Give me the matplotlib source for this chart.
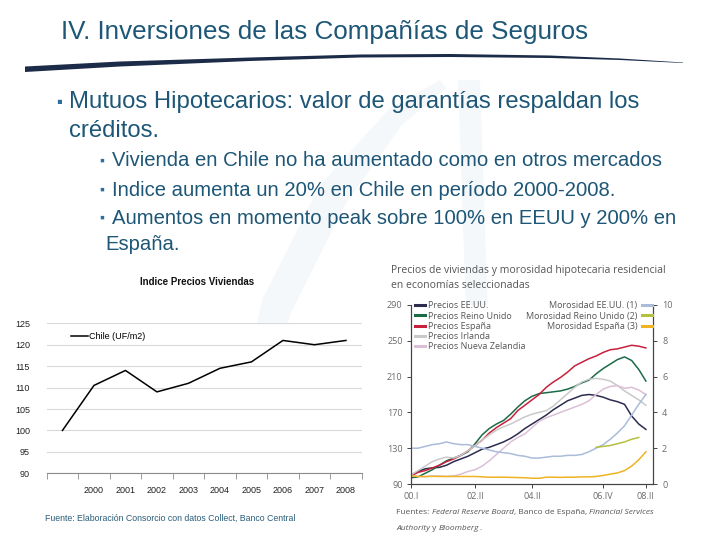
import numpy as np
import matplotlib
matplotlib.use("Agg")
import matplotlib.pyplot as plt
from matplotlib.patches import Polygon

W, H = 720, 540

# ---- data: left chart (Indice Precios Viviendas) ----
chile_years = ["", "2000", "2001", "2002", "2003", "2004", "2005", "2006", "2007", "2008"]
chile_index = [100, 110.5, 114, 109, 111, 114.5, 116, 121, 120, 121]

# ---- data: right chart, quarterly 2000.I .. 2008.II ----
quarters = list(range(34))
q_ticks = [0, 9, 17, 27, 33]
q_labels = ["00.I", "02.II", "04.II", "06.IV", "08.II"]

precios_eeuu = [100, 104, 107, 108, 108.6, 111, 115, 118, 121, 125, 129, 131, 134, 137,
                141, 146, 152, 157, 162, 167, 173, 178, 183, 186, 189, 190, 189, 187,
                184, 182, 179, 166, 157, 151]
precios_uk = [97, 98, 102, 106, 111, 116, 119, 122, 126, 135, 145, 152, 157, 161,
              168, 176, 183, 188, 191, 192, 193, 194, 196, 199, 203, 206, 213, 219,
              224, 229, 232, 228, 218, 205]
precios_espana = [99, 103, 105, 108, 111, 115, 118, 122, 127, 133, 139, 147, 153, 158,
                  163, 172, 178, 184, 190, 198, 204, 209, 215, 222, 226, 230, 233, 237,
                  240, 241, 243, 245, 244, 242]
precios_irlanda = [100, 105, 110, 115, 118, 120, 119, 122, 127, 133, 139, 145, 150, 154,
                   157, 161, 165, 168, 170, 172, 177, 184, 191, 198, 204, 207, 208, 207,
                   205, 200, 194, 189, 184, 178]
precios_nz = [99, 98.5, 98, 99, 99, 98.5, 99, 101, 104, 106, 110, 116, 123, 130,
              137, 142, 146, 153, 160, 164, 167, 170, 173, 176, 179, 183, 190, 196,
              199, 200, 197, 198, 195, 190]

moros_eeuu = [2.0, 2.0, 2.1, 2.2, 2.25, 2.35, 2.25, 2.2, 2.2, 2.1, 2.0, 1.9, 1.8, 1.75,
              1.7, 1.6, 1.55, 1.45, 1.45, 1.5, 1.55, 1.55, 1.6, 1.6, 1.65, 1.8, 2.0, 2.2,
              2.5, 2.85, 3.25, 3.85, 4.45, 5.0]
uk_quarters = [26, 27, 28, 29, 30, 31, 32]
moros_uk = [2.05, 2.1, 2.15, 2.25, 2.35, 2.5, 2.6]
moros_espana = [0.45, 0.42, 0.42, 0.43, 0.42, 0.42, 0.42, 0.42, 0.42, 0.42, 0.40, 0.38,
                0.38, 0.38, 0.37, 0.36, 0.35, 0.32, 0.32, 0.38, 0.38, 0.37, 0.38, 0.38,
                0.40, 0.40, 0.42, 0.48, 0.55, 0.62, 0.75, 1.0, 1.35, 1.8]

TEAL = "#1d5676"
FONT = ["Liberation Sans", "DejaVu Sans"]
plt.rcParams["font.family"] = FONT


def rect(x0, y0, x1, y1):
    return [x0 / W, 1 - y1 / H, (x1 - x0) / W, (y1 - y0) / H]


def ftext(x, y, s, **kw):
    return fig.text(x / W, 1 - y / H, s, **kw)


fig = plt.figure(figsize=(7.2, 5.4), dpi=100)

# background: swoosh under the title and faint watermark
bg = fig.add_axes([0, 0, 1, 1], zorder=-5)
bg.set_xlim(0, W)
bg.set_ylim(H, 0)
bg.axis("off")
wm = "#f5f8fa"
bg.add_patch(Polygon([(235, 430), (262, 300), (320, 185), (390, 108), (440, 80),
                      (446, 88), (402, 125), (345, 205), (290, 315), (258, 430)],
                     closed=True, fc=wm, ec="none"))
bg.add_patch(Polygon([(458, 80), (480, 80), (492, 430), (470, 430)],
                     closed=True, fc=wm, ec="none"))
top = [(25, 66.5), (120, 61.5), (250, 57.5), (360, 54.5), (450, 54), (550, 55.5),
       (620, 58.5), (683, 62.5)]
bot = [(683, 63), (620, 60), (550, 58), (450, 57), (360, 57.5), (250, 61),
       (120, 66.5), (25, 72)]
bg.add_patch(Polygon(top + bot, closed=True, fc="#1c2b48", ec="none"))

# slide text
ftext(61, 32, "IV. Inversiones de las Compañías de Seguros", fontsize=18.7,
      color=TEAL, va="center")
ftext(56, 102, "▪", fontsize=12, color="#2e6f9e", va="center")
ftext(69, 102, "Mutuos Hipotecarios: valor de garantías respaldan los", fontsize=17.2,
      color=TEAL, va="center")
ftext(69, 131, "créditos.", fontsize=17.2, color=TEAL, va="center")
subs = [(161, "Vivienda en Chile no ha aumentado como en otros mercados"),
        (190, "Indice aumenta un 20% en Chile en período 2000-2008."),
        (218, "Aumentos en momento peak sobre 100% en EEUU y 200% en")]
for y, s in subs:
    ftext(99, y, "▪", fontsize=10, color="#2e6f9e", va="center")
    ftext(112, y, s, fontsize=14.6, color=TEAL, va="center")
ftext(105, 244, "España.", fontsize=14.6, color=TEAL, va="center")

# ---- left chart ----
ax = fig.add_axes(rect(46.7, 323.3, 361.7, 473.3))
xs = np.arange(len(chile_index))
ax.plot(xs, chile_index, color="black", lw=1.1, label="Chile (UF/m2)")
ax.set_xlim(-0.5, len(chile_index) - 0.5)
ax.set_ylim(90, 125)
ax.set_yticks(range(90, 126, 5))
ax.yaxis.grid(True, color="#d9d9d9", lw=0.8)
ax.set_axisbelow(True)
for sp in ["top", "right", "left"]:
    ax.spines[sp].set_visible(False)
ax.spines["bottom"].set_color("#8c8c8c")
ax.set_xticks(xs)
ax.set_xticklabels(chile_years)
ax.set_xticks(np.arange(-0.5, len(chile_index)), minor=True)
ax.tick_params(axis="x", which="major", length=0, pad=9, labelsize=6.5, labelcolor="#222222")
ax.tick_params(axis="x", which="minor", length=4, color="#8c8c8c")
ax.tick_params(axis="y", length=0, pad=12, labelsize=6.5, labelcolor="#222222")
ax.legend(loc="upper left", bbox_to_anchor=(0.077, 0.94), frameon=False, fontsize=6.5,
          handlelength=1.9, handletextpad=0.1, borderpad=0, borderaxespad=0)
ftext(197, 282, "Indice Precios Viviendas", fontsize=7, fontweight="bold",
      ha="center", va="center", color="#111111")
ftext(45, 518, "Fuente: Elaboración Consorcio con datos Collect, Banco Central",
      fontsize=6.3, color="#2a5d7a", va="center")

# ---- right chart ----
RF = ["Open Sans", "DejaVu Sans"]
GR = "#6a6a6a"
ax1 = fig.add_axes(rect(411, 305, 653, 484))
ax2 = ax1.twinx()
l1, = ax1.plot(quarters, precios_eeuu, color="#2d2b4f", lw=1.1, label="Precios EE.UU.")
l2, = ax1.plot(quarters, precios_uk, color="#1b6b47", lw=1.1, label="Precios Reino Unido")
l3, = ax1.plot(quarters, precios_espana, color="#c8203c", lw=1.1, label="Precios España")
l4, = ax1.plot(quarters, precios_irlanda, color="#c9c9c9", lw=1.1, label="Precios Irlanda")
l5, = ax1.plot(quarters, precios_nz, color="#dcbfd6", lw=1.1, label="Precios Nueva Zelandia")
m1, = ax2.plot(quarters, moros_eeuu, color="#aabcd9", lw=1.1, label="Morosidad EE.UU. (1)")
m2, = ax2.plot(uk_quarters, moros_uk, color="#b5c040", lw=1.1, label="Morosidad Reino Unido (2)")
m3, = ax2.plot(quarters, moros_espana, color="#f0b323", lw=1.1, label="Morosidad España (3)")
ax1.set_xlim(0, 34)
ax1.set_ylim(90, 290)
ax1.set_yticks(range(90, 291, 40))
ax2.set_ylim(0, 10)
ax2.set_yticks(range(0, 11, 2))
ax1.set_xticks(q_ticks)
ax1.set_xticklabels(q_labels)
for a in (ax1, ax2):
    a.spines["top"].set_visible(False)
    for sp in a.spines.values():
        sp.set_color("#444444")
        sp.set_linewidth(0.8)
    a.tick_params(length=3, width=0.7, color="#444444", labelsize=6.5, labelcolor=GR)
    for t in a.get_xticklabels() + a.get_yticklabels():
        t.set_family(RF)
ax1.tick_params(axis="y", pad=3)
ax1.tick_params(axis="x", pad=3)
leg1 = ax1.legend(handles=[l1, l2, l3, l4, l5], loc="upper left",
                  bbox_to_anchor=(0.017, 1.02), frameon=False,
                  handlelength=1.1, handletextpad=0.35, labelspacing=0.13,
                  borderpad=0, borderaxespad=0, prop={"family": RF, "size": 6.5})
for t in leg1.get_texts():
    t.set_color("#555555")
for h in leg1.legend_handles:
    h.set_linewidth(2.2)
leg2 = ax2.legend(handles=[m1, m2, m3], loc="upper right", bbox_to_anchor=(0.996, 1.02),
                  frameon=False, handlelength=1.1, handletextpad=0.5, labelspacing=0.13,
                  borderpad=0, borderaxespad=0, markerfirst=False,
                  prop={"family": RF, "size": 6.5})
for t in leg2.get_texts():
    t.set_color("#555555")
for h in leg2.legend_handles:
    h.set_linewidth(2.2)

ftext(391, 270, "Precios de viviendas y morosidad hipotecaria residencial",
      fontsize=7.5, color="#555555", va="center", family=RF)
ftext(391, 285, "en economías seleccionadas", fontsize=7.5, color="#555555",
      va="center", family=RF)

# source line with italic names
renderer = fig.canvas.get_renderer()
lines = [
    (513, [("Fuentes: ", "normal"), ("Federal Reserve Board", "italic"),
           (", Banco de España, ", "normal"), ("Financial Services", "italic")]),
    (528, [("Authority", "italic"), (" y ", "normal"), ("Bloomberg", "italic"),
           (".", "normal")]),
]
for y, pieces in lines:
    x = 396
    for s, st in pieces:
        t = ftext(x, y, s, fontsize=6.0, style=st, color="#555555", va="center", family=RF)
        x += t.get_window_extent(renderer).width

fig.savefig("out.png", dpi=100)
